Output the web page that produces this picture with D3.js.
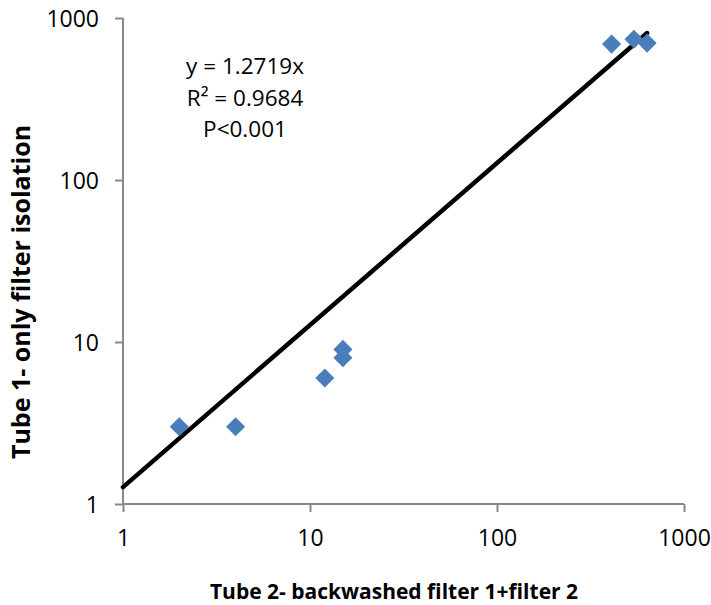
<!DOCTYPE html>
<html>
<head>
<meta charset="utf-8">
<script src="https://cdn.jsdelivr.net/npm/d3@7"></script>
<style>
  body { margin: 0; background: #fff; }
  text { font-family: "Open Sans", sans-serif; }
</style>
</head>
<body>
<div id="chart"></div>
<script>
// data
const xValues = [2, 4, 12, 15, 15, 410, 540, 635];
const yValues = [3, 3, 6, 8, 9, 690, 740, 700];
const tickValues = [1, 10, 100, 1000];
const slope = 1.2719;
const eqLines = ["y = 1.2719x", "R\u00b2 = 0.9684", "P<0.001"];
const xTitle = "Tube 2- backwashed filter 1+filter 2";
const yTitle = "Tube 1- only filter isolation";

const margin = { top: 18, right: 27, bottom: 101, left: 123 };
const width = 711 - margin.left - margin.right;
const height = 605 - margin.top - margin.bottom;

const svg = d3
  .select("#chart")
  .append("svg")
  .attr("width", 711)
  .attr("height", 605)
  .append("g")
  .attr("transform", "translate(" + margin.left + "," + margin.top + ")");

const x = d3.scaleLog().domain([1, 1000]).range([0, width]);
const y = d3.scaleLog().domain([1, 1000]).range([height, 0]);

// axes
const xAxis = svg
  .append("g")
  .attr("transform", `translate(0, ${height})`)
  .call(d3.axisBottom(x).tickValues(tickValues).tickFormat(d3.format("d")).tickSize(8).tickPadding(13));
const yAxis = svg
  .append("g")
  .call(d3.axisLeft(y).tickValues(tickValues).tickFormat(d3.format("d")).tickSize(8).tickPadding(16));

[xAxis, yAxis].forEach((a) => {
  a.selectAll("path, line").attr("stroke", "#888").attr("stroke-width", 2);
  a.select(".domain").attr("d", a === xAxis ? `M0,0H${width}` : `M0,0V${height}`);
  a.selectAll("text").attr("fill", "#000").style("font-size", "23px").style("font-family", "Open Sans");
});
xAxis.selectAll("text").attr("dy", "0.9em");
yAxis.selectAll("text").attr("dy", "0.36em");

// trend line, forced through origin
const xMax = d3.max(xValues);
svg
  .append("path")
  .datum([1, xMax])
  .attr("fill", "none")
  .attr("stroke", "#000")
  .attr("stroke-width", 4.5)
  .attr("stroke-linecap", "round")
  .attr(
    "d",
    d3
      .line()
      .x((d) => x(d))
      .y((d) => y(slope * d))
  );

// points
const pts = xValues.map((d, i) => [d, yValues[i]]);
svg
  .selectAll(".pt")
  .data(pts)
  .join("path")
  .attr("class", "pt")
  .attr("d", d3.symbol(d3.symbolSquare, 182))
  .attr("transform", (d) => `translate(${x(d[0])},${y(d[1])}) rotate(45)`)
  .attr("fill", "#4a7ebb");

// equation
svg
  .append("g")
  .selectAll("text")
  .data(eqLines)
  .join("text")
  .attr("x", 245 - margin.left)
  .attr("y", (d, i) => 74 - margin.top + i * 31.5)
  .attr("text-anchor", "middle")
  .style("font-size", "22.5px")
  .text((d) => d);

// axis titles
svg
  .append("text")
  .attr("x", 394 - margin.left)
  .attr("y", 599 - margin.top)
  .attr("text-anchor", "middle")
  .style("font-size", "21px")
  .style("font-weight", "bold")
  .text(xTitle);

svg
  .append("text")
  .attr("transform", `translate(${30 - margin.left},${292 - margin.top}) rotate(-90)`)
  .attr("text-anchor", "middle")
  .style("font-size", "25px")
  .style("font-weight", "bold")
  .text(yTitle);
</script>
</body>
</html>
